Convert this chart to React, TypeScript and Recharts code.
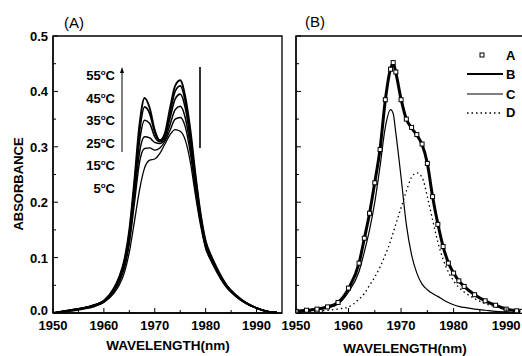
import React from "react"
import { LineChart, Line, XAxis, YAxis, ReferenceArea, Legend } from "recharts"

// panel (A): temperature series
const wavelengthA = [1950, 1952, 1954, 1956, 1958, 1960, 1962, 1963, 1964, 1965, 1966, 1967, 1968, 1969, 1970, 1971, 1972, 1973, 1974, 1975, 1976, 1977, 1978, 1979, 1980, 1981, 1982, 1984, 1986, 1988, 1990, 1992, 1994]
const temperatures = ["55", "45", "35", "25", "15", "5"]
const abs55 = [0.0, 0.003, 0.006, 0.009, 0.014, 0.022, 0.045, 0.065, 0.095, 0.15, 0.24, 0.34, 0.388, 0.37, 0.33, 0.312, 0.325, 0.37, 0.41, 0.42, 0.39, 0.33, 0.25, 0.18, 0.13, 0.105, 0.085, 0.052, 0.032, 0.018, 0.009, 0.003, 0.001]
const abs45 = [0.0, 0.003, 0.006, 0.009, 0.014, 0.022, 0.044, 0.063, 0.092, 0.145, 0.232, 0.327, 0.372, 0.36, 0.326, 0.311, 0.322, 0.362, 0.4, 0.41, 0.382, 0.322, 0.244, 0.176, 0.128, 0.103, 0.083, 0.051, 0.031, 0.018, 0.009, 0.003, 0.001]
const abs35 = [0.0, 0.003, 0.006, 0.009, 0.014, 0.022, 0.043, 0.061, 0.089, 0.14, 0.222, 0.31, 0.348, 0.342, 0.318, 0.309, 0.318, 0.352, 0.386, 0.395, 0.37, 0.312, 0.238, 0.172, 0.125, 0.101, 0.082, 0.05, 0.031, 0.018, 0.009, 0.003, 0.001]
const abs25 = [0.0, 0.003, 0.005, 0.009, 0.013, 0.021, 0.041, 0.058, 0.085, 0.133, 0.21, 0.29, 0.318, 0.316, 0.308, 0.306, 0.314, 0.34, 0.367, 0.373, 0.352, 0.3, 0.23, 0.168, 0.122, 0.099, 0.08, 0.049, 0.03, 0.017, 0.009, 0.003, 0.001]
const abs15 = [0.0, 0.002, 0.005, 0.008, 0.013, 0.02, 0.039, 0.055, 0.08, 0.125, 0.198, 0.272, 0.297, 0.298, 0.294, 0.298, 0.31, 0.33, 0.35, 0.353, 0.336, 0.288, 0.222, 0.163, 0.119, 0.097, 0.078, 0.048, 0.03, 0.017, 0.009, 0.003, 0.001]
const abs5 = [0.0, 0.002, 0.004, 0.007, 0.011, 0.019, 0.036, 0.05, 0.072, 0.11, 0.165, 0.222, 0.262, 0.276, 0.278, 0.288, 0.305, 0.322, 0.331, 0.328, 0.312, 0.272, 0.212, 0.158, 0.116, 0.095, 0.077, 0.047, 0.029, 0.017, 0.009, 0.003, 0.001]

// panel (B): measured spectrum, fit and two bands
const wavelengthB = [1950, 1952, 1954, 1956, 1958, 1960, 1962, 1963, 1964, 1965, 1966, 1967, 1968, 1968.5, 1969, 1970, 1971, 1972, 1973, 1974, 1975, 1976, 1977, 1978, 1979, 1980, 1981, 1982, 1984, 1986, 1988, 1990, 1992, 1993]
const measuredA = [0.003, 0.005, 0.007, 0.011, 0.019, 0.045, 0.09, 0.135, 0.18, 0.235, 0.295, 0.385, 0.44, 0.452, 0.435, 0.385, 0.35, 0.335, 0.322, 0.305, 0.27, 0.21, 0.16, 0.12, 0.09, 0.072, 0.058, 0.048, 0.033, 0.022, 0.014, 0.007, 0.004, 0.003]
const fitB = [0.003, 0.005, 0.007, 0.011, 0.019, 0.044, 0.09, 0.134, 0.18, 0.236, 0.296, 0.384, 0.441, 0.451, 0.434, 0.386, 0.35, 0.334, 0.321, 0.304, 0.27, 0.21, 0.161, 0.12, 0.091, 0.072, 0.058, 0.048, 0.033, 0.022, 0.014, 0.007, 0.004, 0.003]
const bandC = [0.002, 0.004, 0.006, 0.009, 0.016, 0.038, 0.075, 0.11, 0.15, 0.2, 0.265, 0.335, 0.367, 0.36, 0.325, 0.245, 0.16, 0.105, 0.072, 0.052, 0.042, 0.035, 0.03, 0.024, 0.019, 0.015, 0.012, 0.01, 0.007, 0.005, 0.003, 0.002, 0.001, 0.001]
const bandD = [0.001, 0.002, 0.003, 0.005, 0.007, 0.011, 0.025, 0.035, 0.05, 0.065, 0.083, 0.105, 0.13, 0.145, 0.16, 0.19, 0.22, 0.245, 0.253, 0.245, 0.21, 0.168, 0.128, 0.097, 0.074, 0.058, 0.046, 0.038, 0.026, 0.017, 0.011, 0.006, 0.003, 0.002]

const xTicks = [1950, 1955, 1960, 1965, 1970, 1975, 1980, 1985, 1990]
const yTicks = [0, 0.05, 0.1, 0.15, 0.2, 0.25, 0.3, 0.35, 0.4, 0.45, 0.5]

const PLOT_TOP = 36
const PLOT_BOTTOM = 313
const LEFT_A = 53
const LEFT_B = 296
const FONT = "'Liberation Sans', Arial, sans-serif"

const dataA = wavelengthA.map((w, i) => ({
  w,
  t55: abs55[i],
  t45: abs45[i],
  t35: abs35[i],
  t25: abs25[i],
  t15: abs15[i],
  t5: abs5[i],
}))

const dataB = wavelengthB.map((w, i) => ({
  w,
  a: measuredA[i],
  b: fitB[i],
  c: bandC[i],
  d: bandD[i],
}))

function XTick({ x, payload }: any) {
  const v = payload.value
  const major = v % 10 === 0
  return (
    <g>
      <line x1={x} x2={x} y1={PLOT_BOTTOM} y2={PLOT_BOTTOM - (major ? 5 : 3)} stroke="#000" strokeWidth={1} />
      {major && (
        <text x={x} y={PLOT_BOTTOM + 17} textAnchor="middle" fontSize={13} fontWeight="bold" fontFamily={FONT} fill="#000">
          {v}
        </text>
      )}
    </g>
  )
}

function makeYTick(left: number, labels: boolean) {
  return function YTick({ y, payload }: any) {
    const v = payload.value
    const major = Math.round(v * 100) % 10 === 0
    // the 0.0 label sits a little higher so it clears the 1950 label
    const dy = v === 0 ? 2 : 5
    return (
      <g>
        <line x1={left} x2={left + (major ? 5 : 3)} y1={y} y2={y} stroke="#000" strokeWidth={1} />
        {labels && major && (
          <text x={left - 5} y={y + dy} textAnchor="end" fontSize={13} fontWeight="bold" fontFamily={FONT} fill="#000">
            {v.toFixed(1)}
          </text>
        )}
      </g>
    )
  }
}

const SquareDot = (props: any) => {
  const { cx, cy, index } = props
  if (cx == null || cy == null) return <g key={index} />
  return <rect key={index} x={cx - 2} y={cy - 2} width={4} height={4} fill="#fff" stroke="#000" strokeWidth={1} />
}

function PanelLegend() {
  const txt = { fontSize: 13, fontWeight: "bold" as const, fontFamily: FONT, fill: "#000" }
  return (
    <svg width={62} height={78}>
      <rect x={20} y={8} width={4} height={4} fill="#fff" stroke="#000" strokeWidth={1} />
      <text x={46} y={15} {...txt}>A</text>
      <line x1={7} x2={43} y1={29} y2={29} stroke="#000" strokeWidth={2.2} />
      <text x={46} y={34} {...txt}>B</text>
      <line x1={7} x2={43} y1={49} y2={49} stroke="#000" strokeWidth={1.2} />
      <text x={46} y={54} {...txt}>C</text>
      <line x1={7} x2={40} y1={68} y2={68} stroke="#000" strokeWidth={1.3} strokeDasharray="1.5 3" />
      <text x={46} y={72} {...txt}>D</text>
    </svg>
  )
}

function TempLabel({ y, t }: { y: number; t: string }) {
  return (
    <text x={115} y={y} textAnchor="end" fontSize={13} fontWeight="bold" fontFamily={FONT} fill="#000">
      {t}
      <tspan dy={-5} fontSize={8}>o</tspan>
      <tspan dy={5}>C</tspan>
    </text>
  )
}

export default function App() {
  const titleStyle = { fontSize: 13.5, fontWeight: "bold" as const, fontFamily: FONT, fill: "#000" }
  return (
    <div style={{ position: "fixed", left: 0, top: 0, width: 522, height: 356, background: "#fff", overflow: "hidden" }}>
      <div style={{ position: "absolute", left: 0, top: 0 }}>
        <LineChart width={290} height={356} data={dataA} margin={{ top: PLOT_TOP, right: 8, bottom: 0, left: 0 }}>
          <XAxis
            dataKey="w"
            type="number"
            domain={[1950, 1995]}
            ticks={xTicks}
            tick={<XTick />}
            tickLine={false}
            axisLine={{ stroke: "#000", strokeWidth: 1.3 }}
            height={356 - PLOT_BOTTOM}
            allowDataOverflow
            interval={0}
          />
          <YAxis
            type="number"
            domain={[0, 0.5]}
            ticks={yTicks}
            tick={makeYTick(LEFT_A, true)}
            tickLine={false}
            axisLine={{ stroke: "#000", strokeWidth: 1.3 }}
            width={LEFT_A}
            interval={0}
          />
          <ReferenceArea x1={1950} x2={1995} y1={0} y2={0.5} fill="none" stroke="#000" strokeWidth={1.3} ifOverflow="extendDomain" />
          <Line type="monotone" dataKey="t5" stroke="#000" strokeWidth={1.3} dot={false} isAnimationActive={false} />
          <Line type="monotone" dataKey="t15" stroke="#000" strokeWidth={1.4} dot={false} isAnimationActive={false} />
          <Line type="monotone" dataKey="t25" stroke="#000" strokeWidth={1.5} dot={false} isAnimationActive={false} />
          <Line type="monotone" dataKey="t35" stroke="#000" strokeWidth={1.6} dot={false} isAnimationActive={false} />
          <Line type="monotone" dataKey="t45" stroke="#000" strokeWidth={1.7} dot={false} isAnimationActive={false} />
          <Line type="monotone" dataKey="t55" stroke="#000" strokeWidth={1.9} dot={false} isAnimationActive={false} />
        </LineChart>
      </div>

      <div style={{ position: "absolute", left: 0, top: 0 }}>
        <LineChart width={524} height={356} data={dataB} margin={{ top: PLOT_TOP, right: 0, bottom: 0, left: 0 }}>
          <XAxis
            dataKey="w"
            type="number"
            domain={[1950, 1993.4]}
            ticks={xTicks}
            tick={<XTick />}
            tickLine={false}
            axisLine={{ stroke: "#000", strokeWidth: 1.3 }}
            height={356 - PLOT_BOTTOM}
            allowDataOverflow
            interval={0}
          />
          <YAxis
            type="number"
            domain={[0, 0.5]}
            ticks={yTicks}
            tick={makeYTick(LEFT_B, false)}
            tickLine={false}
            axisLine={{ stroke: "#000", strokeWidth: 1.3 }}
            width={LEFT_B}
            interval={0}
          />
          <ReferenceArea x1={1950} x2={1993.4} y1={0} y2={0.5} fill="none" stroke="#000" strokeWidth={1.3} />
          <Legend
            layout="vertical"
            align="center"
            verticalAlign="middle"
            content={<PanelLegend />}
            wrapperStyle={{ position: "absolute", left: 460, top: 45, width: 62, height: 78 }}
          />
          <Line type="monotone" dataKey="d" stroke="#000" strokeWidth={1.3} strokeDasharray="1.5 3" dot={false} isAnimationActive={false} />
          <Line type="monotone" dataKey="c" stroke="#000" strokeWidth={1.2} dot={false} isAnimationActive={false} />
          <Line type="monotone" dataKey="b" stroke="#000" strokeWidth={3} dot={false} isAnimationActive={false} />
          <Line type="monotone" dataKey="a" stroke="none" dot={SquareDot} isAnimationActive={false} />
        </LineChart>
      </div>

      <svg width={522} height={356} style={{ position: "absolute", left: 0, top: 0, pointerEvents: "none" }}>
        <text x={64} y={28} fontSize={15} fontFamily={FONT} fill="#000">(A)</text>
        <text x={305} y={27} fontSize={15} fontFamily={FONT} fill="#000">(B)</text>
        <text transform="translate(23,184) rotate(-90)" textAnchor="middle" fontSize={13} fontWeight="bold" fontFamily={FONT} fill="#000">
          ABSORBANCE
        </text>
        <text x={168} y={350} textAnchor="middle" {...titleStyle}>WAVELENGTH(nm)</text>
        <text x={405} y={353} textAnchor="middle" {...titleStyle}>WAVELENGTH(nm)</text>
        {temperatures.map((t, i) => (
          <TempLabel key={t} t={t} y={80 + i * 22.6} />
        ))}
        <line x1={122} x2={122} y1={152} y2={70} stroke="#000" strokeWidth={1} />
        <path d="M120,73 L122,67 L124,73 Z" fill="#000" />
        <line x1={200} x2={200} y1={148} y2={67} stroke="#000" strokeWidth={1.6} />
      </svg>
    </div>
  )
}
